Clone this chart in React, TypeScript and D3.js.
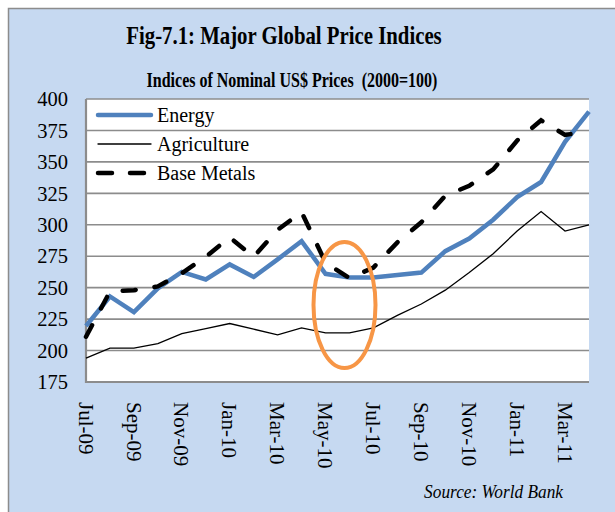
import React, { useEffect, useRef } from "react";
import * as d3 from "d3";

const months = [
  "Jul-09", "Aug-09", "Sep-09", "Oct-09", "Nov-09", "Dec-09",
  "Jan-10", "Feb-10", "Mar-10", "Apr-10", "May-10", "Jun-10",
  "Jul-10", "Aug-10", "Sep-10", "Oct-10", "Nov-10", "Dec-10",
  "Jan-11", "Feb-11", "Mar-11", "Apr-11"
];
const tickMonths = months.filter((_, i) => i % 2 === 0);

const energy = [
  219.5, 243, 230.5, 249.5, 262.5, 256.5, 268.5, 258.5, 272.5, 287, 261, 258,
  258, 260, 262, 279, 289, 304, 322, 334, 366, 390
];
const agriculture = [
  194, 202, 202, 205.5, 213.5, 217.5, 221.5, 217, 212.5, 218, 214, 214,
  218, 228, 237, 248, 262, 277, 295, 310.5, 295, 300
];
const baseMetals = [
  211, 247, 248, 251, 261.5, 274.5, 290, 274.5, 296, 310, 270, 257.5,
  266, 286, 302, 323, 331, 344, 367, 383, 371.5, 374
];
const yTicks = [175, 200, 225, 250, 275, 300, 325, 350, 375, 400];

const seriesNames = ["Energy", "Agriculture", "Base Metals"];

export default function App() {
  const ref = useRef<SVGSVGElement>(null);

  useEffect(() => {
    const svg = d3.select(ref.current);
    svg.selectAll("*").remove();

    const w = 615;
    const h = 512;
    const left = 86;
    const right = 589;
    const top = 99;
    const bottom = 382;
    const font = "'Liberation Serif', 'Times New Roman', serif";

    // frame
    svg.append("rect").attr("width", w).attr("height", h).attr("fill", "#fff");
    svg
      .append("rect")
      .attr("x", 8.5)
      .attr("y", 8.5)
      .attr("width", w + 20)
      .attr("height", h + 20)
      .attr("fill", "#C6D9F1")
      .attr("stroke", "#8c8c8c")
      .attr("stroke-width", 1.5);

    // condensed titles
    svg
      .append("text")
      .text("Fig-7.1: Major Global Price Indices")
      .attr("transform", "translate(284,44) scale(0.8,1)")
      .attr("text-anchor", "middle")
      .attr("font-family", font)
      .attr("font-weight", "bold")
      .attr("font-size", 26);

    svg
      .append("text")
      .text("Indices of Nominal US$ Prices  (2000=100)")
      .attr("transform", "translate(292,87) scale(0.8,1)")
      .attr("text-anchor", "middle")
      .attr("font-family", font)
      .attr("font-weight", "bold")
      .attr("font-size", 20)
      .style("white-space", "pre");

    const x = d3.scalePoint<string>().domain(months).range([left, right]);
    const y = d3.scaleLinear().domain([175, 400]).range([bottom, top]);

    svg
      .append("rect")
      .attr("x", left)
      .attr("y", top)
      .attr("width", right - left)
      .attr("height", bottom - top)
      .attr("fill", "#fff");

    // gridlines
    svg
      .append("g")
      .selectAll("line")
      .data(yTicks.slice(1))
      .enter()
      .append("line")
      .attr("x1", left)
      .attr("x2", right)
      .attr("y1", d => y(d))
      .attr("y2", d => y(d))
      .attr("stroke", "#8c8c8c")
      .attr("stroke-width", 1.6);

    // axes lines
    svg
      .append("line")
      .attr("x1", left)
      .attr("x2", right)
      .attr("y1", y(175))
      .attr("y2", y(175))
      .attr("stroke", "#8c8c8c")
      .attr("stroke-width", 2.2);
    svg
      .append("line")
      .attr("x1", left)
      .attr("x2", left)
      .attr("y1", top)
      .attr("y2", bottom + 1)
      .attr("stroke", "#8c8c8c")
      .attr("stroke-width", 2.2);

    svg
      .append("g")
      .selectAll("text")
      .data(yTicks)
      .enter()
      .append("text")
      .text(d => d)
      .attr("x", 68)
      .attr("y", d => y(d))
      .attr("dy", "0.35em")
      .attr("text-anchor", "end")
      .attr("font-family", font)
      .attr("font-size", 20.5);

    svg
      .append("g")
      .selectAll("text")
      .data(tickMonths)
      .enter()
      .append("text")
      .text(d => d)
      .attr("transform", d => "translate(" + x(d) + "," + (bottom + 20) + ") rotate(90)")
      .attr("dy", "0.35em")
      .attr("font-family", font)
      .attr("font-size", 21);

    const line = d3
      .line<number>()
      .x((_, i) => x(months[i]) as number)
      .y(d => y(d));

    svg
      .append("path")
      .datum(agriculture)
      .attr("d", line)
      .attr("fill", "none")
      .attr("stroke", "#000")
      .attr("stroke-width", 1.3);

    svg
      .append("path")
      .datum(energy)
      .attr("d", line)
      .attr("fill", "none")
      .attr("stroke", "#4F81BD")
      .attr("stroke-width", 4.5);

    svg
      .append("path")
      .datum(baseMetals)
      .attr("d", line)
      .attr("fill", "none")
      .attr("stroke", "#000")
      .attr("stroke-width", 4.5)
      .attr("stroke-linecap", "round")
      .attr("stroke-dasharray", "13 19");

    // legend
    const styles = [
      { stroke: "#4F81BD", width: 4.5, dash: null },
      { stroke: "#000", width: 1.3, dash: null },
      { stroke: "#000", width: 4.5, dash: "14 18" }
    ];
    const legend = svg
      .append("g")
      .selectAll("g")
      .data(seriesNames)
      .enter()
      .append("g")
      .attr("transform", (_, i) => "translate(0," + [115, 144, 173][i] + ")");
    legend
      .append("line")
      .attr("x1", 98)
      .attr("x2", 151)
      .attr("stroke", (_, i) => styles[i].stroke)
      .attr("stroke-width", (_, i) => styles[i].width)
      .attr("stroke-linecap", "round")
      .attr("stroke-dasharray", (_, i) => styles[i].dash);
    legend
      .append("text")
      .text(d => d)
      .attr("x", 157)
      .attr("dy", "0.35em")
      .attr("font-family", font)
      .attr("font-size", 20);

    svg
      .append("ellipse")
      .attr("cx", 344.5)
      .attr("cy", 305)
      .attr("rx", 31)
      .attr("ry", 63)
      .attr("fill", "none")
      .attr("stroke", "#F79646")
      .attr("stroke-width", 4);

    svg
      .append("text")
      .text("Source: World Bank")
      .attr("transform", "translate(563,498) scale(0.91,1)")
      .attr("text-anchor", "end")
      .attr("font-family", font)
      .attr("font-style", "italic")
      .attr("font-size", 19);
  }, []);

  return (
    <svg
      ref={ref}
      width={615}
      height={512}
      style={{ position: "absolute", left: 0, top: 0, display: "block" }}
    />
  );
}
